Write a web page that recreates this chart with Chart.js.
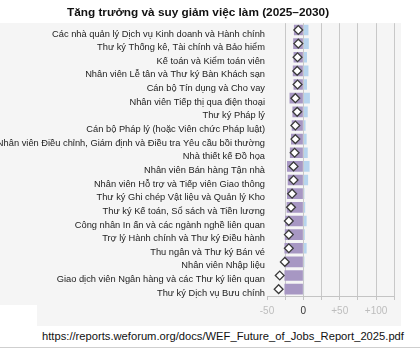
<!DOCTYPE html>
<html lang="vi">
<head>
<meta charset="utf-8">
<script src="https://cdn.jsdelivr.net/npm/chart.js@4"></script>
<style>
    body { margin: 0; background: #fff; font-family: "Liberation Sans", Arial, sans-serif; }
    #panel { position: absolute; left: 0; top: 23px; width: 401px; height: 303px; background: #f5f5f5; }
    #notch { position: absolute; left: 0; top: 305px; width: 37px; height: 21px; background: #fff; }
    #chart-wrap { position: absolute; left: 0; top: 0; width: 400px; height: 330px; }
    #source { position: absolute; left: 0; top: 330px; width: 446px; text-align: center; font-size: 11.2px; color: #111; }
    #rule { position: absolute; left: 0; top: 347px; width: 420px; height: 1px; background: #cfcfcf; }
</style>
</head>
<body>
<div id="panel"></div>
<div id="notch"></div>
<div id="chart-wrap"><canvas id="jobs-chart"></canvas></div>
<div id="source">https://reports.weforum.org/docs/WEF_Future_of_Jobs_Report_2025.pdf</div>
<div id="rule"></div>
<script>
// Occupations, top to bottom
const jobs = [
    'Các nhà quản lý Dịch vụ Kinh doanh và Hành chính',
    'Thư ký Thống kê, Tài chính và Bảo hiểm',
    'Kế toán và Kiểm toán viên',
    'Nhân viên Lễ tân và Thư ký Bàn Khách sạn',
    'Cán bộ Tín dụng và Cho vay',
    'Nhân viên Tiếp thị qua điện thoại',
    'Thư ký Pháp lý',
    'Cán bộ Pháp lý (hoặc Viên chức Pháp luật)',
    'Nhân viên Điều chỉnh, Giám định và Điều tra Yêu cầu bồi thường',
    'Nhà thiết kế Đồ họa',
    'Nhân viên Bán hàng Tận nhà',
    'Nhân viên Hỗ trợ và Tiếp viên Giao thông',
    'Thư ký Ghi chép Vật liệu và Quản lý Kho',
    'Thư ký Kế toán, Sổ sách và Tiền lương',
    'Công nhân In ấn và các ngành nghề liên quan',
    'Trợ lý Hành chính và Thư ký Điều hành',
    'Thu ngân và Thư ký Bán vé',
    'Nhân viên Nhập liệu',
    'Giao dịch viên Ngân hàng và các Thư ký liên quan',
    'Thư ký Dịch vụ Bưu chính'
];

// Change 2025-2030, %
const decline = [-13, -14, -13.5, -14.5, -13.5, -19, -15, -16, -17, -18.5,
                 -22.5, -21.5, -22.5, -23, -25, -25.5, -26, -26, -26, -26];
const growth = [7, 7.5, 5, 7, 5, 9, 6, 3, 4.5, 6,
                8.5, 6.5, 1.5, 2.5, 4.5, 2, 4.5, 1.5, 1, 1];
const netChange = [-7, -7, -8, -8.5, -8, -11, -8.5, -11, -11, -12,
                   -13.5, -13.5, -15.5, -17, -20, -20, -20, -25.5, -32.5, -34];

// Axis ticks that get a label
const labelledTicks = [-50, 0, 50, 100];

const ctx = document.getElementById('jobs-chart').getContext('2d');
const jobsChart = new Chart(ctx, {
    type: 'bar',
    data: {
        labels: jobs,
        datasets: [
            {
                label: 'Net',
                type: 'line',
                indexAxis: 'y',
                data: netChange,
                showLine: false,
                pointStyle: 'rectRot',
                pointRadius: 4.4,
                pointBackgroundColor: '#ffffff',
                pointBorderColor: '#3a3a3a',
                pointBorderWidth: 1.3,
                order: 0
            },
            {
                label: 'Decline',
                data: decline,
                backgroundColor: '#a797c3',
                grouped: false,
                barPercentage: 0.78,
                categoryPercentage: 1,
                order: 1
            },
            {
                label: 'Growth',
                data: growth,
                backgroundColor: '#b7d4ee',
                grouped: false,
                barPercentage: 0.78,
                categoryPercentage: 1,
                order: 1
            }
        ]
    },
    options: {
        indexAxis: 'y',
        responsive: true,
        maintainAspectRatio: false,
        animation: false,
        layout: { padding: { left: 0, right: 4, top: 0, bottom: 8 } },
        scales: {
            x: {
                min: -50,
                max: 125,
                border: { color: '#c4c4c4' },
                grid: {
                    color: c => (c.tick && c.tick.value === -50) ? 'transparent' : '#c8c8c8',
                    tickColor: '#c4c4c4',
                    tickLength: 4
                },
                ticks: {
                    stepSize: 25,
                    padding: 5,
                    autoSkip: false,
                    maxRotation: 0,
                    font: { family: 'Liberation Sans', size: 10 },
                    color: c => c.tick.value === 0 ? '#333333' : '#bdbdbd',
                    callback: v => {
                        if (!labelledTicks.includes(v)) return '';
                        return v > 0 ? '+' + v : String(v);
                    }
                }
            },
            y: {
                border: { display: false },
                grid: { display: false, drawTicks: false },
                ticks: {
                    autoSkip: false,
                    padding: 2,
                    labelOffset: 4,
                    color: '#222222',
                    font: { family: 'Liberation Sans', size: 9.3 }
                },
                afterFit: scale => { scale.width = 267; }
            }
        },
        plugins: {
            legend: { display: false },
            tooltip: { enabled: false },
            title: {
                display: true,
                text: 'Tăng trưởng và suy giảm việc làm (2025–2030)',
                color: '#111111',
                font: { family: 'Liberation Sans', size: 11.8, weight: 'bold' },
                padding: { top: 6, bottom: 3 }
            }
        }
    }
});
</script>
</body>
</html>
